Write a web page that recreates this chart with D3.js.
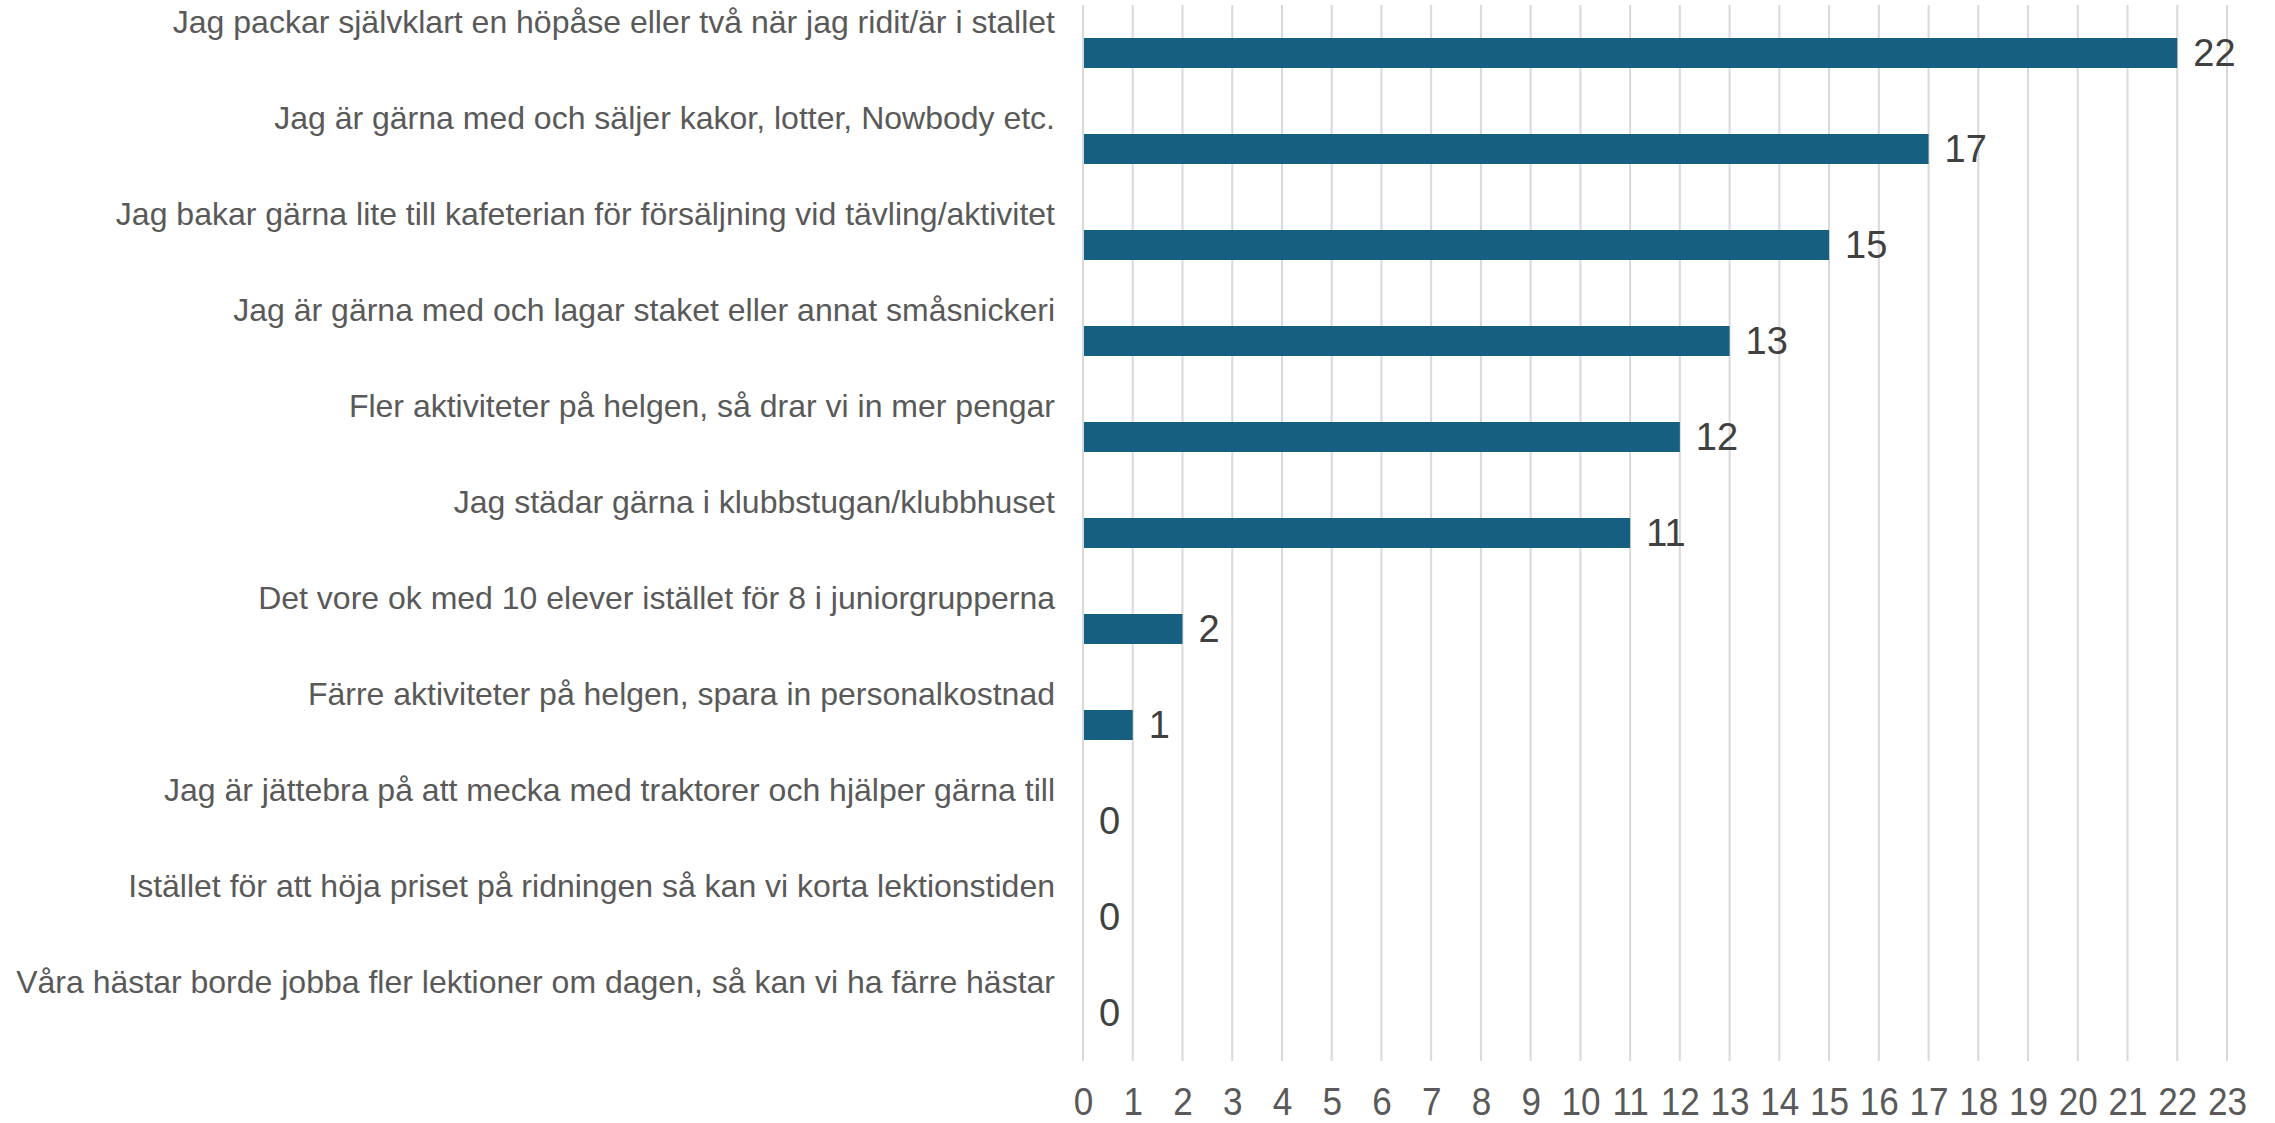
<!DOCTYPE html>
<html>
<head>
<meta charset="utf-8">
<script src="https://cdn.jsdelivr.net/npm/d3@7"></script>
<style>
  body { margin: 0; background: #fff; }
  #chart { width: 2275px; height: 1123px; }
  text { font-family: "Liberation Sans", Arial, sans-serif; }
</style>
</head>
<body>
<div id="chart"></div>
<script>
// answers, top to bottom
const categories = [
  'Jag packar självklart en höpåse eller två när jag ridit/är i stallet',
  'Jag är gärna med och säljer kakor, lotter, Nowbody etc.',
  'Jag bakar gärna lite till kafeterian för försäljning vid tävling/aktivitet',
  'Jag är gärna med och lagar staket eller annat småsnickeri',
  'Fler aktiviteter på helgen, så drar vi in mer pengar',
  'Jag städar gärna i klubbstugan/klubbhuset',
  'Det vore ok med 10 elever istället för 8 i juniorgrupperna',
  'Färre aktiviteter på helgen, spara in personalkostnad',
  'Jag är jättebra på att mecka med traktorer och hjälper gärna till',
  'Istället för att höja priset på ridningen så kan vi korta lektionstiden',
  'Våra hästar borde jobba fler lektioner om dagen, så kan vi ha färre hästar'
];
const counts = [22, 17, 15, 13, 12, 11, 2, 1, 0, 0, 0];
const xTicks = d3.range(0, 24);

const W = 2275, H = 1123;
const plotLeft = 1083, plotRight = 2227, plotTop = 5, plotBottom = 1061;

const svg = d3.select('#chart').append('svg')
  .attr('width', W).attr('height', H);

var x = d3.scaleLinear().domain([0, 23]).range([plotLeft, plotRight]);

// band for rows (labels) and a padded one for the bars themselves
var yRow = d3.scaleBand().domain(categories).range([plotTop, plotBottom]).padding(0);
var yBar = d3.scaleBand().domain(categories).range([plotTop, plotBottom])
  .paddingInner(0.6875).paddingOuter(0.34375);

// grid
svg.append('g').selectAll('line')
  .data(xTicks).enter().append('line')
  .attr('x1', d => x(d)).attr('x2', d => x(d))
  .attr('y1', plotTop).attr('y2', plotBottom)
  .attr('stroke', '#d9d9d9').attr('stroke-width', 2);

// x axis labels (a bit narrow, like the original)
const xAxis = svg.append('g')
  .attr('transform', 'translate(0,' + plotBottom + ')')
  .call(d3.axisBottom(x).tickValues(xTicks).tickSize(0).tickPadding(26).tickFormat(d3.format('d')));
xAxis.select('.domain').remove();
xAxis.selectAll('text')
  .attr('fill', '#595959')
  .attr('transform', 'scale(0.9,1)')
  .style('font-size', '39px')
  .style('font-family', '"Liberation Sans", Arial, sans-serif');

// category labels, sitting above each bar
svg.append('g').selectAll('text')
  .data(categories).enter().append('text')
  .attr('x', 1055)
  .attr('y', d => yRow(d) + 28)
  .attr('text-anchor', 'end')
  .attr('fill', '#595959')
  .style('font-size', '32px')
  .text(d => d);

// bars
svg.append('g').selectAll('rect')
  .data(categories).enter().append('rect')
  .attr('x', x(0) + 1)
  .attr('y', d => yBar(d))
  .attr('width', (d, i) => Math.max(0, x(counts[i]) - x(0) - 1))
  .attr('height', yBar.bandwidth())
  .attr('fill', '#175f80');

// value labels
svg.append('g').selectAll('text')
  .data(categories).enter().append('text')
  .attr('x', (d, i) => x(counts[i]) + 16)
  .attr('y', d => yBar(d) + yBar.bandwidth() / 2)
  .attr('dy', '0.35em')
  .attr('fill', '#404040')
  .style('font-size', '38px')
  .text((d, i) => counts[i]);
</script>
</body>
</html>
